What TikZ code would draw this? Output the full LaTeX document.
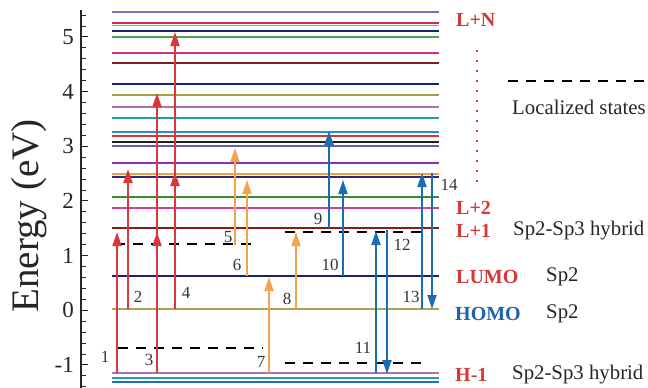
\documentclass[tikz,border=0pt]{standalone}
\usepackage{fontspec}
\setmainfont{Liberation Serif}
\newfontfamily\tms{Liberation Serif}
\usetikzlibrary{arrows.meta}
\definecolor{cred}{HTML}{D8383C}
\definecolor{corange}{HTML}{F4A24E}
\definecolor{cblue}{HTML}{1A6DB5}
\definecolor{lblred}{HTML}{D23A3A}
\definecolor{lblblue}{HTML}{1F62AE}
\definecolor{lpurple}{HTML}{7B6CC8}
\definecolor{lcrimson}{HTML}{C8304A}
\definecolor{lorange}{HTML}{F08A30}
\definecolor{lnavy}{HTML}{1C2070}
\definecolor{lgreen}{HTML}{4CA050}
\definecolor{lmagenta}{HTML}{D0307A}
\definecolor{ldarkred}{HTML}{7A2020}
\definecolor{lolive}{HTML}{A8A040}
\definecolor{lplum}{HTML}{B070B0}
\definecolor{lteal}{HTML}{20A0A0}
\definecolor{lsteel}{HTML}{2090D0}
\definecolor{lred}{HTML}{E03030}
\definecolor{lblack}{HTML}{202020}
\definecolor{lslate}{HTML}{6060B0}
\definecolor{lviolet}{HTML}{9030B0}
\definecolor{lorange2}{HTML}{F0A040}
\definecolor{lindigo}{HTML}{302880}
\definecolor{lgreen2}{HTML}{309030}
\definecolor{lpink}{HTML}{D04090}
\definecolor{ldkred}{HTML}{8B1A1A}
\definecolor{lhomo}{HTML}{B0A050}
\definecolor{lblue2}{HTML}{2070B0}
\tikzset{
  tr/.style={line width=1.8pt,-{Triangle[width=9pt,length=14pt]}},
  loc/.style={black,line width=2.4pt,dash pattern=on 10pt off 8pt},
  num/.style={font=\tms\fontsize{17}{17}\selectfont,text=black!80,inner sep=0pt},
  tick/.style={font=\tms\fontsize{23}{23}\selectfont,text=black!85,anchor=east,inner sep=0pt},
  lab/.style={font=\tms\bfseries\fontsize{20}{20}\selectfont,anchor=west,inner sep=0pt},
  desc/.style={font=\tms\fontsize{20.8}{21}\selectfont,text=black!85,anchor=west,inner sep=0pt},
}
\begin{document}
\begin{tikzpicture}[x=1pt,y=-1pt]
\useasboundingbox (0,0) rectangle (648,388);
% energy levels
\foreach \y/\c/\w in {12/lpurple/1.4,23/lcrimson/1.6,25.5/lorange/1.6,31/lnavy/2.6,37/lgreen/1.6,
  53/lmagenta/1.5,63/ldarkred/1.5,84/lnavy/1.5,95/lolive/1.5,107/lplum/1.5,118/lteal/2.4,
  132/lsteel/1.5,136/lred/1.5,142/lblack/1.6,146/lslate/1.6,163/lviolet/1.5,174/lorange2/1.6,
  177/lindigo/1.6,197/lgreen2/1.8,208/lpink/1.5,228/ldkred/1.6,276/lnavy/2.6,309/lhomo/1.5,
  373/lplum/2.0,378/lteal/1.8,382/lblue2/1.8}
  \draw[line width=\w pt,\c] (112,\y) -- (439,\y);
% axis
\draw[line width=1.2pt,black!85] (81,10) -- (81,388);
\foreach \i in {-7,...,27}{
  \pgfmathsetmacro{\yy}{310.3-\i*0.2*54.67}
  \pgfmathtruncatemacro{\m}{mod(\i+10,5)}
  \ifnum\m=0 \draw[line width=1pt,black!85] (81,\yy) -- (88,\yy);
  \else \draw[line width=1pt,black!85] (81,\yy) -- (86,\yy); \fi
}
\foreach \v in {-1,0,...,5}{
  \pgfmathsetmacro{\yy}{310.3-\v*54.67}
  \node[tick] (t\v) at (74,\yy) {\v};
}
\node[rotate=90,font=\tms\fontsize{39}{39}\selectfont,text=black!85,inner sep=0pt] (ylab) at (29,216) {Energy (eV)};
% localized state dashed lines
\coordinate (d1a) at (115,244); \coordinate (d1b) at (257,244);
\coordinate (d2a) at (118,348); \coordinate (d2b) at (263,348);
\coordinate (d3a) at (285,232); \coordinate (d3b) at (428,232);
\coordinate (d4a) at (285,363); \coordinate (d4b) at (426,363);
\draw[loc] (d1a) -- (d1b);
\draw[loc] (d2a) -- (d2b);
\draw[loc] (d3a) -- (d3b);
\draw[loc] (d4a) -- (d4b);
% red transitions
\coordinate (r1s) at (117,373); \coordinate (r1e) at (117,232);
\coordinate (r2s) at (128,309); \coordinate (r2e) at (128,169);
\coordinate (r3s) at (157,373); \coordinate (r3m) at (157,232); \coordinate (r3e) at (157,93);
\coordinate (r4s) at (175,309); \coordinate (r4m) at (175,172); \coordinate (r4e) at (175,32);
\draw[tr,cred] (r1s) -- (r1e);
\draw[tr,cred] (r2s) -- (r2e);
\draw[tr,cred] (r3s) -- (r3e);
\draw[tr,cred] ([yshift=-16pt]r3m) -- (r3m);
\draw[tr,cred] (r4s) -- (r4e);
\draw[tr,cred] ([yshift=-16pt]r4m) -- (r4m);
% orange transitions
\coordinate (o5s) at (235,245); \coordinate (o5e) at (235,148);
\coordinate (o6s) at (247,276); \coordinate (o6e) at (247,180);
\coordinate (o7s) at (269,373); \coordinate (o7e) at (269,277);
\coordinate (o8s) at (296,309); \coordinate (o8e) at (296,232);
\draw[tr,corange] (o5s) -- (o5e);
\draw[tr,corange] (o6s) -- (o6e);
\draw[tr,corange] (o7s) -- (o7e);
\draw[tr,corange] (o8s) -- (o8e);
% blue transitions
\coordinate (b9s) at (329,228); \coordinate (b9e) at (329,131);
\coordinate (b10s) at (343,276); \coordinate (b10e) at (343,180);
\coordinate (b11s) at (376,373); \coordinate (b11e) at (376,231);
\coordinate (b12s) at (387,230); \coordinate (b12e) at (387,374);
\coordinate (b13s) at (422,309); \coordinate (b13e) at (422,173);
\coordinate (b14s) at (432,173); \coordinate (b14e) at (432,309);
\draw[tr,cblue] (b9s) -- (b9e);
\draw[tr,cblue] (b10s) -- (b10e);
\draw[tr,cblue] (b11s) -- (b11e);
\draw[tr,cblue] (b12s) -- (b12e);
\draw[tr,cblue] (b13s) -- (b13e);
\draw[tr,cblue] (b14s) -- (b14e);
% transition numbers
\node[num] (n1) at (105,357) {1};
\node[num] (n2) at (138,297) {2};
\node[num] (n3) at (149,360) {3};
\node[num] (n4) at (186,293) {4};
\node[num] (n5) at (228,237) {5};
\node[num] (n6) at (237,265) {6};
\node[num] (n7) at (261,362) {7};
\node[num] (n8) at (287,299) {8};
\node[num] (n9) at (318,219) {9};
\node[num] (n10) at (330,265) {10};
\node[num] (n11) at (363,348) {11};
\node[num] (n12) at (402,245) {12};
\node[num] (n13) at (411,297) {13};
\node[num] (n14) at (449,185) {14};
% right labels
\node[lab,text=lblred] (lN) at (456,20) {L+N};
\coordinate (dotA) at (477,50); \coordinate (dotB) at (477,184);
\draw[lblred,line width=2pt,dash pattern=on 2pt off 8pt] (dotA) -- (dotB);
\node[lab,text=lblred] (l2) at (456,208) {L+2};
\node[lab,text=lblred] (l1) at (456,231) {L+1};
\node[desc] (l1d) at (513,231) {Sp2-Sp3 hybrid};
\node[lab,text=lblred] (lumo) at (456,277) {LUMO};
\node[desc] (lumod) at (546,277) {Sp2};
\node[lab,text=lblblue] (homo) at (455,314) {HOMO};
\node[desc] (homod) at (546,314) {Sp2};
\node[lab,text=lblred] (hm1) at (455,375) {H-1};
\node[desc] (hm1d) at (512,375) {Sp2-Sp3 hybrid};
% legend
\coordinate (legA) at (508,81); \coordinate (legB) at (648,81);
\draw[loc] (legA) -- (legB);
\node[desc] (legt) at (512,107) {Localized states};
\end{tikzpicture}
\end{document}
